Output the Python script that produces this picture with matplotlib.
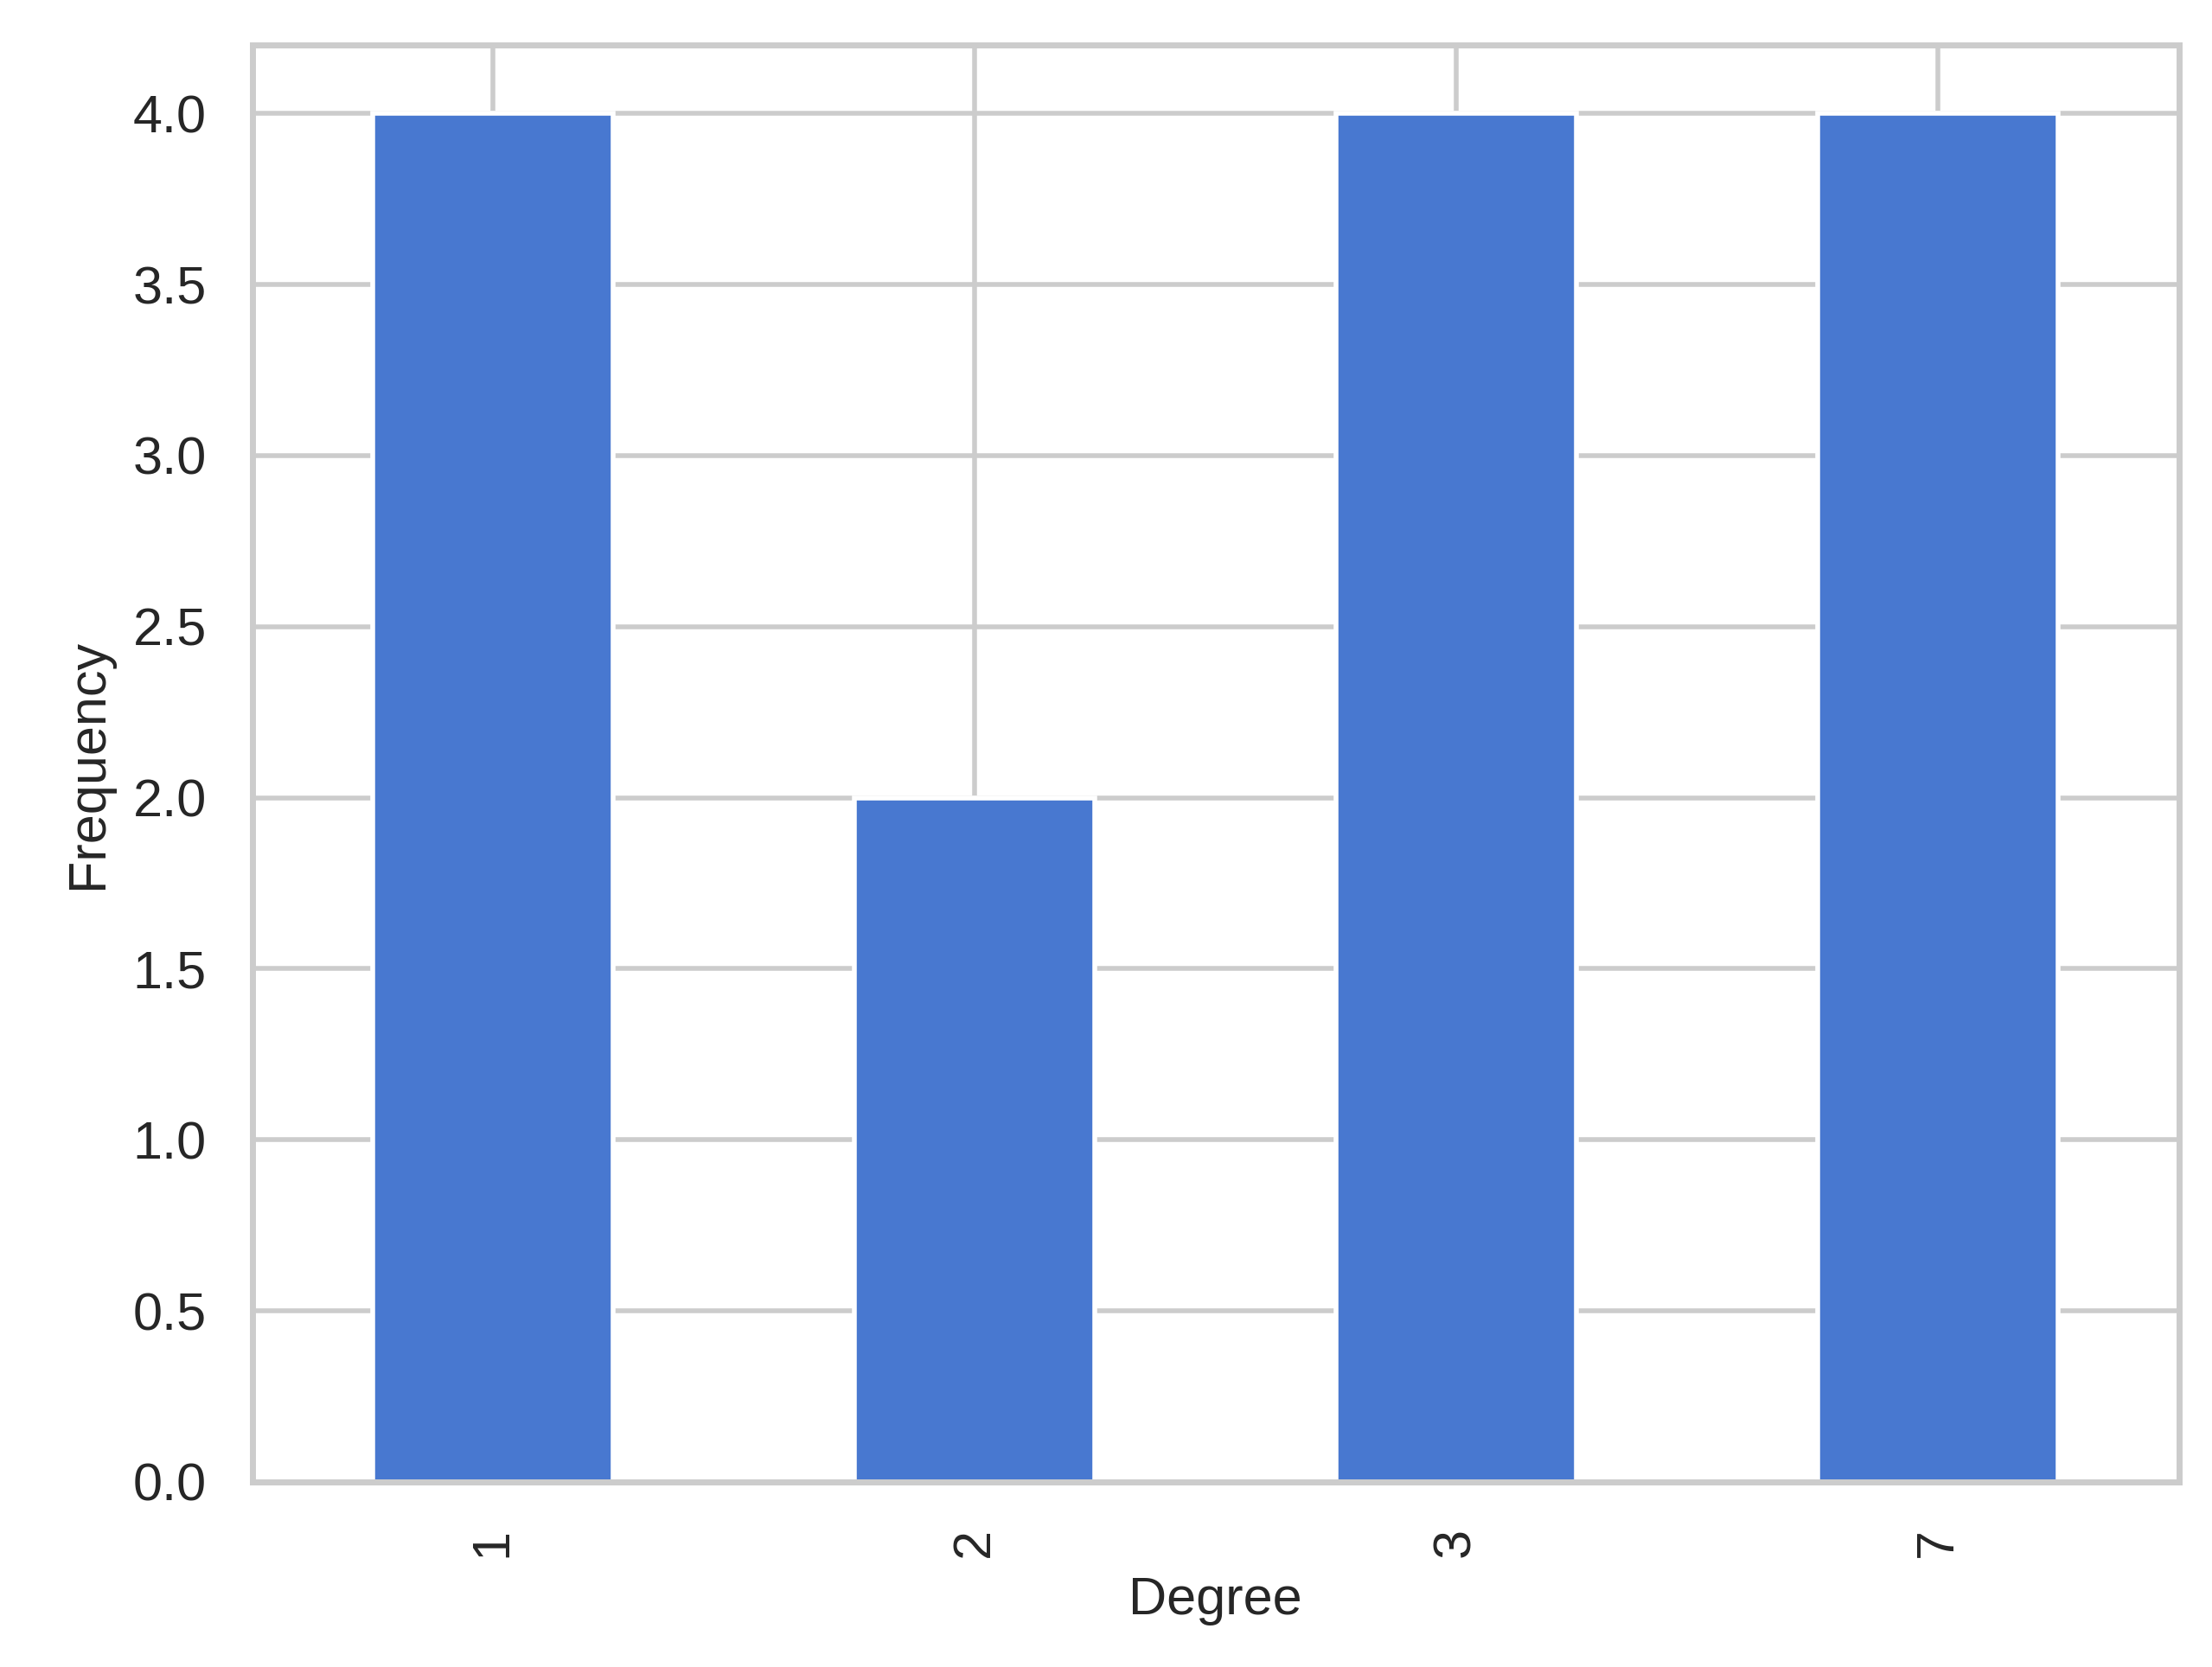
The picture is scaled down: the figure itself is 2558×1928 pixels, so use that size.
import matplotlib
matplotlib.use("Agg")
import matplotlib.pyplot as plt
import seaborn as sns
import pandas as pd

degrees = ["1", "2", "3", "7"]
frequency = [4, 2, 4, 4]

sns.set_theme(style="whitegrid", palette="muted")
plt.rcParams['font.family'] = ['Arial', 'Liberation Sans', 'DejaVu Sans']

counts = pd.Series(frequency, index=degrees)

fig, ax = plt.subplots(figsize=(6.395, 4.82), dpi=400)
counts.plot(kind="bar", ax=ax, color=sns.color_palette("muted")[0])
ax.set_xlabel("Degree", fontsize=11)
ax.set_ylabel("Frequency", fontsize=11)
ax.tick_params(labelsize=11)
ax.set_ylim(0, 4.2)
for s in ax.spines.values():
    s.set_color("#cccccc")
    s.set_linewidth(1.25)
fig.subplots_adjust(left=0.114, right=0.985, top=0.973, bottom=0.111)
fig.savefig("out.png", dpi=400)
